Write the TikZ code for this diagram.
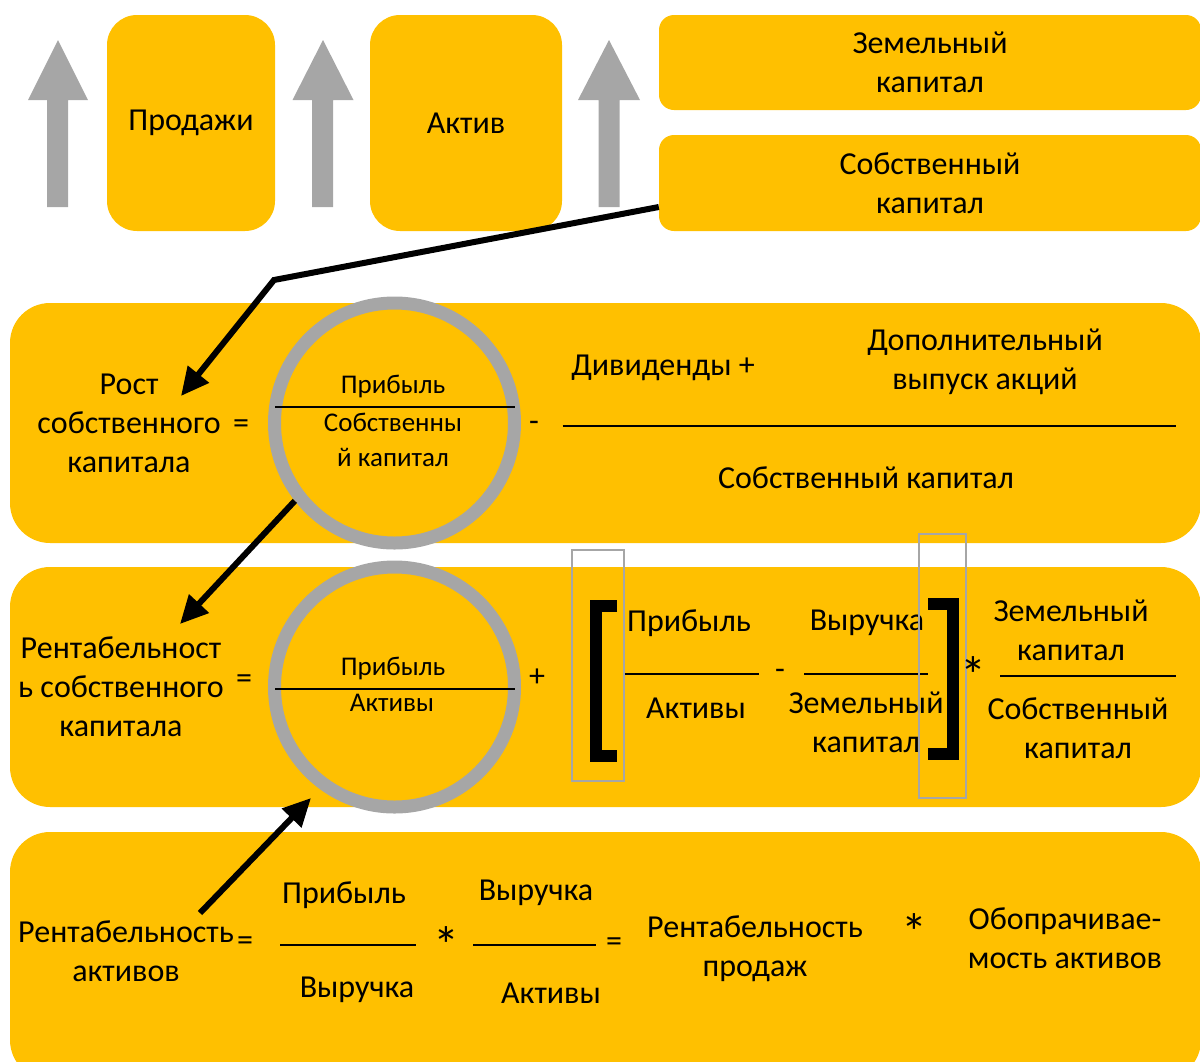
\documentclass[tikz,border=0pt]{standalone}
\usepackage{fontspec}
\setmainfont{Carlito}
\usetikzlibrary{arrows.meta}
\definecolor{myyellow}{HTML}{FFC000}
\definecolor{mygray}{HTML}{A6A6A6}
\tikzset{
  ybox/.style={fill=myyellow, rounded corners=#1, inner sep=0pt},
  txt/.style={font=\fontsize{32}{39}\selectfont, align=center, inner sep=0pt},
  stxt/.style={font=\fontsize{27}{35}\selectfont, align=center, inner sep=0pt},
  starsym/.style={font=\fontsize{52}{52}\selectfont, inner sep=0pt},
  fracline/.style={line width=2.5pt},
  ring/.style={circle, draw=mygray, line width=13pt, fill=myyellow, inner sep=0pt, minimum size=240pt},
  link/.style={line width=6pt, -{Triangle[length=28pt,width=26pt]}},
  uparrow/.style={fill=mygray},
  gbox/.style={draw=mygray, line width=2pt},
  brack/.style={line width=12pt, line cap=butt, line join=miter},
}
\begin{document}
\begin{tikzpicture}[x=1pt,y=-1pt]
\clip (0,0) rectangle (1200,1061);
\useasboundingbox (0,0) rectangle (1200,1061);

% top row
\fill[uparrow] (28,100) -- (58,40) -- (88,100) -- (68,100) -- (68,207) -- (47,207) -- (47,100) -- cycle;
\fill[uparrow] (292.5,100) -- (323,40) -- (353.5,100) -- (333,100) -- (333,207) -- (312,207) -- (312,100) -- cycle;
\fill[uparrow] (578,100) -- (609,40) -- (640,100) -- (619.5,100) -- (619.5,207) -- (598.5,207) -- (598.5,100) -- cycle;

\node[ybox=30pt, txt, minimum width=168pt, minimum height=216pt] (prod) at (191,123) {Продажи};
\node[ybox=30pt, txt, minimum width=192pt, minimum height=216pt] (aktiv) at (466,123) {Актив};
\node[ybox=15pt, txt, minimum width=542pt, minimum height=95pt] (zk) at (930,62.5) {Земельный\\капитал};
\node[ybox=15pt, txt, minimum width=542pt, minimum height=96pt] (sk) at (930,183) {Собственный\\капитал};

% row boxes
\node[ybox=40pt, minimum width=1191pt, minimum height=240pt] (row2) at (605.5,423) {};
\node[ybox=40pt, minimum width=1191pt, minimum height=240pt] (row3) at (605.5,687) {};
\node[ybox=40pt, minimum width=1191pt, minimum height=248pt] (row4) at (605.5,956) {};

% row 2
\node[ring] (c1) at (394.5,423) {};
\draw[fracline] (275,407) -- (515,407);
\node[stxt] (c1num) at (393,386) {Прибыль};
\node[stxt] (c1den) at (393,440) {Собственны\\й капитал};
\node[txt] (rost) at (129,423) {Рост\\собственного\\капитала};
\node[txt] (eq1) at (241,427) {=};
\node[txt] (minus1) at (534,426) {-};
\node[txt] (div) at (663,368) {Дивиденды +};
\node[txt] (dop) at (985,362) {Дополнительный\\выпуск акций};
\draw[fracline] (562.5,426) -- (1176,426);
\node[txt] (sk2) at (866,478) {Собственный капитал};

% row 3
\node[ring] (c2) at (394.5,687) {};
\draw[fracline] (275,689) -- (515,689);
\node[stxt] (c2num) at (393,668) {Прибыль};
\node[stxt] (c2den) at (392,703) {Активы};
\node[txt] (rsk) at (121,687) {Рентабельност\\ь собственного\\капитала};
\node[txt] (eq2) at (244,682) {=};
\node[txt] (plus2) at (537,678) {+};
\node[txt] (p3) at (689,623) {Прибыль};
\draw[fracline] (623,674) -- (759,674);
\node[txt] (a3) at (696,708) {Активы};
\node[txt] (minus3) at (780,674) {-};
\node[txt] (v3) at (867,623) {Выручка};
\draw[fracline] (804,674) -- (928,674);
\node[txt] (z3) at (866,722) {Земельный\\капитал};
\draw[brack] (617,606) -- (596,606) -- (596,756) -- (617,756);
\draw[brack] (928,604) -- (953,604) -- (953,754) -- (928,754);
\draw[gbox] (571.5,550) rectangle (624,781);
\draw[gbox] (919,534) rectangle (966,798);
\node[starsym] (star3) at (973,675) {*};
\node[txt] (zk3) at (1071,630) {Земельный\\капитал};
\draw[fracline] (1000,676) -- (1176,676);
\node[txt] (sk3) at (1078,728) {Собственный\\капитал};

% row 4
\node[txt] (ra) at (126,951) {Рентабельность\\активов};
\node[txt] (eq4) at (245,944) {=};
\node[txt] (p4) at (344,895) {Прибыль};
\draw[fracline] (280,945) -- (416,945);
\node[txt] (v4) at (357,990) {Выручка};
\node[starsym] (star4) at (446,945) {*};
\node[txt] (v4b) at (536,893) {Выручка};
\draw[fracline] (473,945) -- (596,945);
\node[txt] (a4) at (551,993) {Активы};
\node[txt] (eq4b) at (614,945) {=};
\node[txt] (rp) at (755,949) {Рентабельность\\продаж};
\node[starsym] (star4b) at (914,932) {*};
\node[txt] (ob) at (1065,938) {Обопрачивае-\\мость активов};

% connectors
\coordinate (k1) at (274,280);
\coordinate (t1) at (181,396);
\draw[link, line join=miter] (sk.west |- 0,207) -- (k1) -- (t1);
\coordinate (t2) at (180,624);
\draw[link] (c1.218) -- (t2);
\coordinate (s3) at (200,913);
\coordinate (t3) at (311,798);
\draw[link] (s3) -- (t3);
\end{tikzpicture}
\end{document}
